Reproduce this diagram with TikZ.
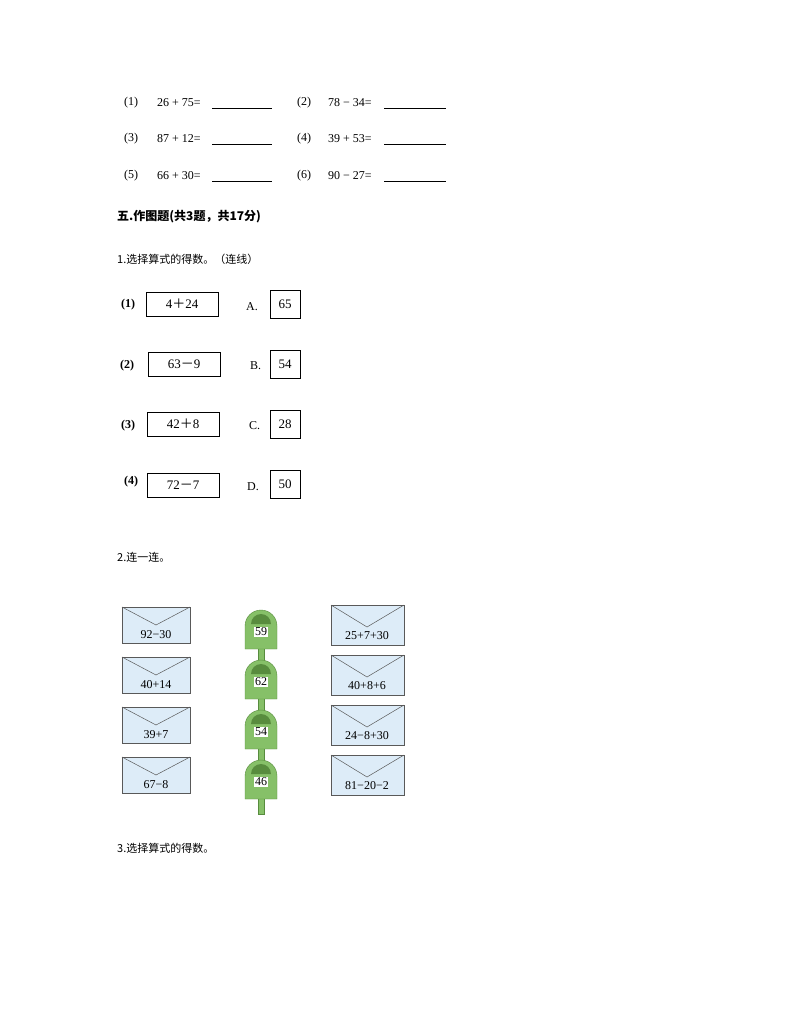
\documentclass[tikz,border=0pt]{standalone}
\usepackage{fontspec}
\setmainfont{Liberation Serif}
\newfontfamily\cjk{Noto Sans CJK SC}
\definecolor{envc}{RGB}{221,236,248}
\definecolor{mbg}{RGB}{134,192,104}
\definecolor{mbd}{RGB}{88,140,62}
\begin{document}
\begin{tikzpicture}[x=1pt,y=-1pt,
  t/.style={anchor=west,inner sep=0pt,font=\fontsize{12}{13}\selectfont},
  eq/.style={draw,line width=1pt,minimum width=72pt,minimum height=24pt,inner sep=0pt,font=\fontsize{13}{14}\selectfont},
  ans/.style={draw,line width=0.8pt,minimum width=30pt,minimum height=28pt,inner sep=0pt,font=\fontsize{13}{14}\selectfont},
  lb/.style={anchor=west,inner sep=0pt,font=\bfseries\fontsize{12}{14}\selectfont},
  env/.style={draw=gray!70!black,fill=envc,line width=0.6pt},
  mb/.style={fill=mbg,draw=mbd,line width=0.4pt}]
\useasboundingbox (0,0) rectangle (794,1028);
% part top
\foreach \y/\a/\b/\c/\d in {103/1/26 + 75=/2/78 − 34=,139/3/87 + 12=/4/39 + 53=,176/5/66 + 30=/6/90 − 27=}{
  \node[t] (la\a) at (124,\y) {(\a)};
  \node[t] (ta\a) at (157,\y) {\b};
  \draw[line width=0.5pt] (212,\y+5) -- (272,\y+5);
  \node[t] (la\c) at (297,\y) {(\c)};
  \node[t] (ta\c) at (328,\y) {\d};
  \draw[line width=0.5pt] (384,\y+5) -- (446,\y+5);
}
\node[anchor=west,inner sep=0pt,font=\cjk\bfseries\fontsize{12}{14}\selectfont] (h5) at (117,217) {五.作图题(共3题，共17分)};
\node[anchor=west,inner sep=0pt,font=\cjk\fontsize{11}{13}\selectfont] (q1) at (117,259) {1.选择算式的得数。（连线）};
% part 1
\node[lb] (p1) at (121,305) {(1)}; \node[eq] (e1) at (182,304) {4{\cjk ＋}24};
\node[lb] (p2) at (120,366) {(2)}; \node[eq] (e2) at (184,364) {63{\cjk －}9};
\node[lb] (p3) at (121,426) {(3)}; \node[eq] (e3) at (183,424) {42{\cjk ＋}8};
\node[lb] (p4) at (124,482) {(4)}; \node[eq] (e4) at (183,485) {72{\cjk －}7};
\node[anchor=west,inner sep=0pt,font=\fontsize{12}{14}\selectfont] (la) at (246,307) {A.};
\node[anchor=west,inner sep=0pt,font=\fontsize{12}{14}\selectfont] (lbb) at (250,366) {B.};
\node[anchor=west,inner sep=0pt,font=\fontsize{12}{14}\selectfont] (lc) at (249,426) {C.};
\node[anchor=west,inner sep=0pt,font=\fontsize{12}{14}\selectfont] (ld) at (247,487) {D.};
\node[ans] (aa) at (285,304) {65};
\node[ans] (ab) at (285,364) {54};
\node[ans] (ac) at (285,424) {28};
\node[ans] (ad) at (285,484) {50};
\node[anchor=west,inner sep=0pt,font=\cjk\fontsize{11}{13}\selectfont] (q2) at (117,557) {2.连一连。};
% part 2
\foreach \i/\l/\r/\n in {0/92−30/25+7+30/59,1/40+14/40+8+6/62,2/39+7/24−8+30/54,3/67−8/81−20−2/46}{
  \pgfmathsetmacro{\yy}{607+50*\i}
  \draw[env] (122,\yy) rectangle (190,\yy+36);
  \draw[gray!70!black,line width=0.5pt] (122,\yy) -- (156,\yy+18) -- (190,\yy);
  \node[inner sep=0pt,font=\fontsize{12}{13}\selectfont] (el\i) at (156,\yy+28) {\l};
  \draw[env] (331,\yy-2) rectangle (404,\yy+38);
  \draw[gray!70!black,line width=0.5pt] (331,\yy-2) -- (367,\yy+20) -- (404,\yy-2);
  \node[inner sep=0pt,font=\fontsize{12}{13}\selectfont] (er\i) at (367,\yy+29) {\r};
  % mailbox
  \path[mb] (258,\yy+40) rectangle (264,\yy+57);
  \path[mb] (245,\yy+42) -- (245,\yy+19) arc[start angle=180,end angle=360,radius=16] -- (277,\yy+42) -- cycle;
  \fill[mbd] (251,\yy+17) arc[start angle=180,end angle=360,radius=10] -- cycle;
  \node[fill=white,inner sep=0.8pt,font=\fontsize{12}{13}\selectfont] (m\i) at (261,\yy+25) {\n};
}
\node[anchor=west,inner sep=0pt,font=\cjk\fontsize{11}{13}\selectfont] (q3) at (117,848) {3.选择算式的得数。};
\end{tikzpicture}
\end{document}
